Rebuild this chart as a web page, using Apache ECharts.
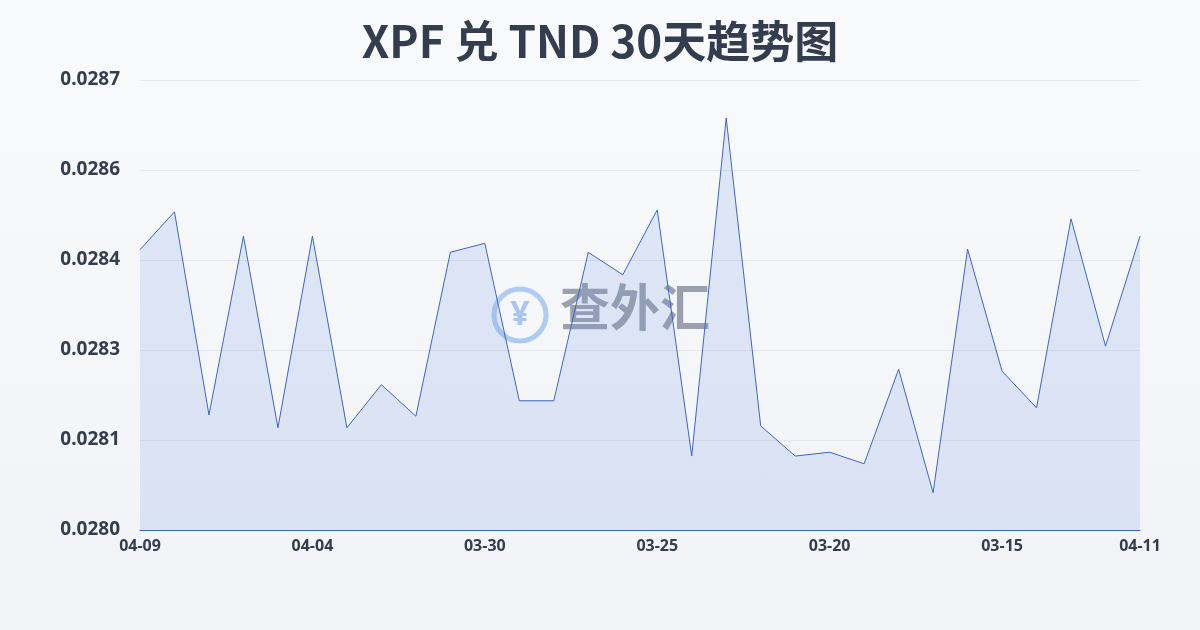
<!DOCTYPE html>
<html>
<head>
<meta charset="utf-8">
<script src="https://cdn.jsdelivr.net/npm/echarts@6/dist/echarts.min.js"></script>
<style>
html,body{margin:0;padding:0;}
#main{width:1200px;height:630px;background:linear-gradient(#f9fafc,#f1f3f6);}
</style>
</head>
<body>
<div id="main"></div>
<script>
var dates = ['04-09','04-08','04-07','04-06','04-05','04-04','04-03','04-02','04-01','03-31',
	'03-30','03-29','03-28','03-27','03-26','03-25','03-24','03-23','03-22','03-21',
	'03-20','03-19','03-18','03-17','03-16','03-15','03-14','03-13','03-12','04-11'];
var rates = [0.028436,0.028495,0.028179,0.028457,0.028159,0.028457,0.028159,0.028226,0.028177,0.028432,
	0.028446,0.028201,0.028201,0.028432,0.028397,0.028498,0.028115,0.028641,0.028162,0.028115,
	0.028121,0.028103,0.028250,0.028058,0.028437,0.028247,0.028190,0.028484,0.028286,0.028457];
var yMin = 0.0280, yMax = 0.0287, yStep = 0.00014;

var myChart = echarts.init(document.getElementById('main'));
var option = {
	title: {
		text: 'XPF 兑 TND 30天趋势图',
		left: 'center',
		top: 14,
		textStyle: {
			color: '#333d4d',
			fontSize: 44,
			fontWeight: 'bold',
			fontFamily: 'Noto Sans CJK SC'
		}
	},
	grid: {
		left: 140,
		right: 60,
		top: 80,
		bottom: 100
	},
	graphic: [{
		type: 'text',
		x: 520,
		y: 315,
		z: 0,
		style: {
			text: '¥',
			fontSize: 34,
			fontWeight: 'bold',
			align: 'center',
			verticalAlign: 'middle',
			fill: 'rgba(90,150,230,0.5)',
			fontFamily: 'Noto Sans'
		}
	}, {
		type: 'circle',
		shape: {cx: 520, cy: 315, r: 26},
		style: {fill: 'none', stroke: 'rgba(90,150,230,0.45)', lineWidth: 5}
	}, {
		type: 'text',
		left: 560,
		top: 282,
		style: {
			text: '查外汇',
			fontSize: 50,
			fontWeight: 'bold',
			fill: 'rgba(80,90,110,0.55)',
			fontFamily: 'Noto Sans CJK SC'
		}
	}],
	xAxis: {
		type: 'category',
		boundaryGap: false,
		data: dates,
		axisLine: {lineStyle: {color: '#3a66c4'}},
		axisTick: {show: false},
		axisLabel: {
			color: '#333d4d',
			fontSize: 16,
			fontWeight: 'bold',
			fontFamily: 'Noto Sans',
			margin: 8,
			interval: function (idx) {
				return idx % 5 === 0 || idx === dates.length - 1;
			}
		}
	},
	yAxis: {
		type: 'value',
		min: yMin,
		max: yMax,
		interval: yStep,
		axisLine: {show: false},
		axisTick: {show: false},
		splitLine: {lineStyle: {color: '#e4e7ec'}},
		axisLabel: {
			color: '#333d4d',
			fontSize: 19,
			fontWeight: 'bold',
			fontFamily: 'Noto Sans',
			margin: 20,
			formatter: function (v) { return v.toFixed(4); }
		}
	},
	series: [{
		type: 'line',
		data: rates,
		symbol: 'none',
		lineStyle: {color: '#3a66c4', width: 1},
		areaStyle: {color: 'rgba(110,145,225,0.25)'}
	}]
};
myChart.setOption(option, true);
</script>
</body>
</html>
